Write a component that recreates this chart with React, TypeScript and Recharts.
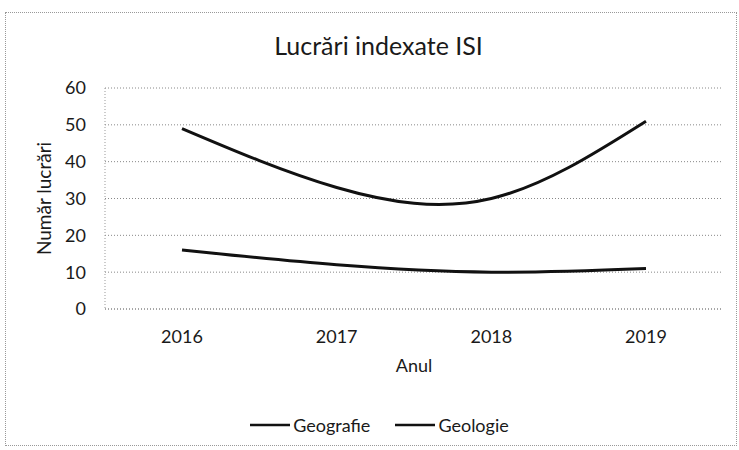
import React from "react";
import { LineChart, Line, XAxis, YAxis, CartesianGrid, Legend, Label } from "recharts";

const years = ["2016", "2017", "2018", "2019"];
const geografie = [49, 33, 30, 51];
const geologie = [16, 12, 10, 11];
const yTicks = [0, 10, 20, 30, 40, 50, 60];

const data = years.map((y, i) => ({ an: y, Geografie: geografie[i], Geologie: geologie[i] }));

const FONT = "Lato, 'Open Sans', sans-serif";
const TXT = "#1a1a1a";

const LegendContent = (props: any) => {
  const { payload } = props;
  return (
    <div
      style={{
        display: "flex",
        justifyContent: "center",
        alignItems: "center",
        height: 30,
        paddingLeft: 20,
        fontFamily: FONT,
        fontSize: 18,
        color: TXT,
      }}
    >
      {(payload || []).map((p: any, i: number) => (
        <div key={p.value} style={{ display: "flex", alignItems: "center", marginLeft: i === 0 ? 0 : 25 }}>
          <svg width={40} height={10} style={{ marginRight: 3 }}>
            <line x1={0} y1={5} x2={40} y2={5} stroke="#111" strokeWidth={2.5} />
          </svg>
          <span>{p.value}</span>
        </div>
      ))}
    </div>
  );
};

export default function App() {
  return (
    <div style={{ position: "absolute", left: 0, top: 0, width: 739, height: 450, background: "#fff" }}>
      <div
        style={{
          position: "absolute",
          left: 5,
          top: 12,
          width: 730,
          height: 432,
          border: "1px dotted #999",
        }}
      />
      <div
        style={{
          position: "absolute",
          left: 9,
          top: 30,
          width: 739,
          textAlign: "center",
          fontFamily: FONT,
          fontSize: 25,
          lineHeight: "30px",
          color: TXT,
        }}
      >
        Lucrări indexate ISI
      </div>
      <div style={{ position: "absolute", left: 0, top: 0 }}>
        <LineChart
          width={739}
          height={450}
          data={data}
          margin={{ top: 88, right: 16, bottom: 20, left: 30 }}
        >
          <CartesianGrid stroke="#888" strokeDasharray="1 2" vertical={false} />
          <XAxis
            dataKey="an"
            padding={{ left: 77, right: 77 }}
            axisLine={{ stroke: "#888", strokeDasharray: "1 2" }}
            tickLine={false}
            tickSize={0}
            tick={{ fontFamily: FONT, fontSize: 18, fill: TXT }}
            tickMargin={21}
            height={77}
          >
            <Label value="Anul" position="insideTop" offset={50} style={{ fontFamily: FONT, fontSize: 18, fill: TXT }} />
          </XAxis>
          <YAxis
            domain={[0, 60]}
            ticks={yTicks}
            axisLine={{ stroke: "#999", strokeDasharray: "1 2" }}
            tickLine={false}
            tickSize={0}
            tickMargin={19}
            width={75}
            tick={{ fontFamily: FONT, fontSize: 18, fill: TXT }}
          >
            <Label
              value="Număr lucrări"
              angle={-90}
              position="insideLeft"
              offset={14}
              style={{ fontFamily: FONT, fontSize: 19, fill: TXT, textAnchor: "middle" }}
            />
          </YAxis>
          <Legend
            verticalAlign="bottom"
            content={<LegendContent />}
            wrapperStyle={{ top: 410, bottom: "auto", left: 0, width: 739, height: 44 }}
          />
          <Line type="natural" dataKey="Geografie" stroke="#111" strokeWidth={3} dot={false} isAnimationActive={false} />
          <Line type="natural" dataKey="Geologie" stroke="#111" strokeWidth={3} dot={false} isAnimationActive={false} />
        </LineChart>
      </div>
    </div>
  );
}
